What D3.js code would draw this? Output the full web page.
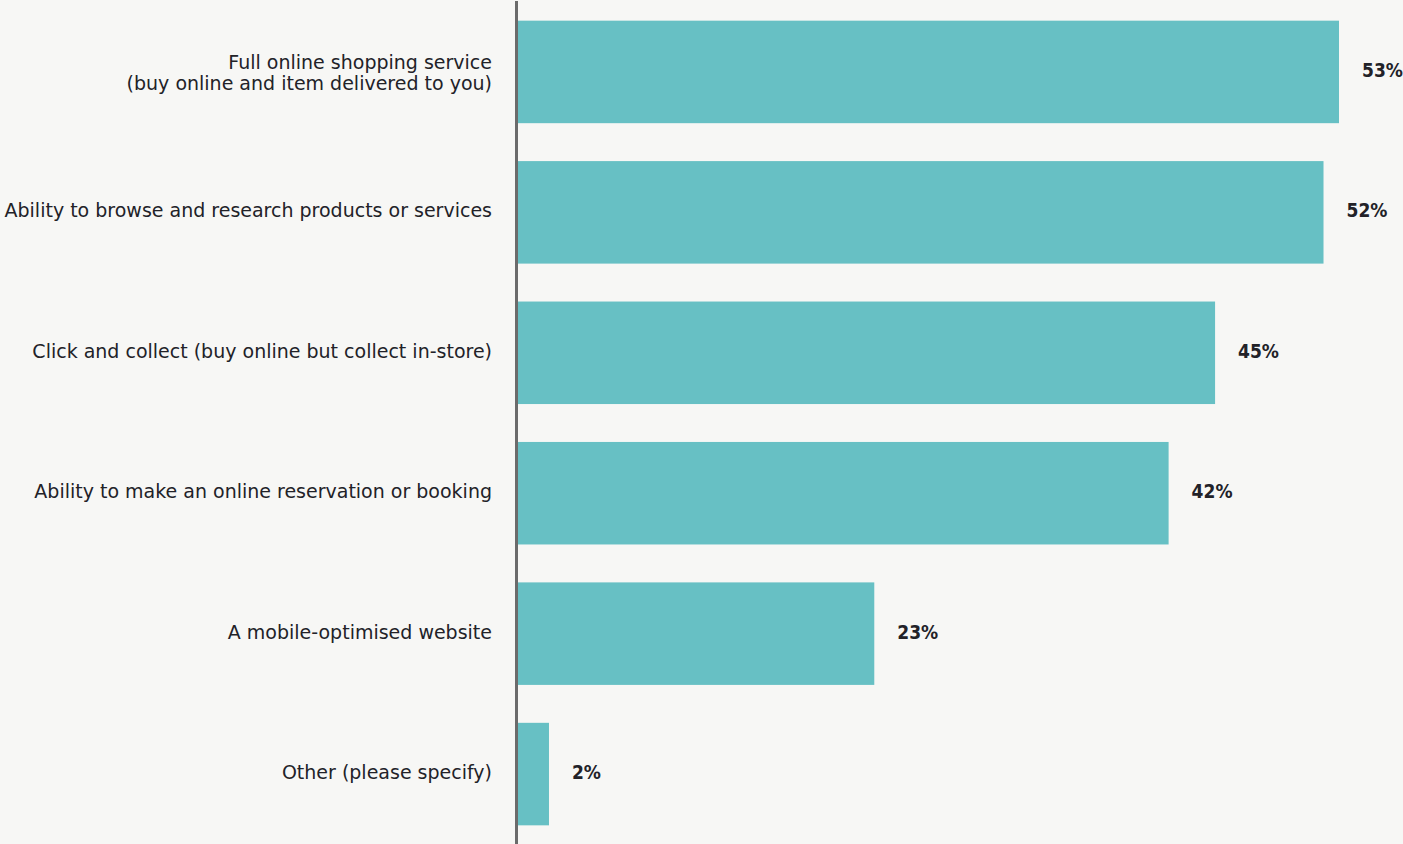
<!DOCTYPE html>
<html>
<head>
<meta charset="utf-8">
<script src="https://cdn.jsdelivr.net/npm/d3@7"></script>
<style>
  html, body { margin: 0; padding: 0; background: #f7f7f5; }
  svg { display: block; }
  .cat { font-family: "DejaVu Sans", sans-serif; font-size: 19px; fill: #222228; }
  .val { font-family: "DejaVu Sans Condensed", "DejaVu Sans", sans-serif; font-weight: 700; font-size: 19px; fill: #222228; }
</style>
</head>
<body>
<svg id="chart" width="1403" height="844"></svg>
<script>
// Survey answers: online services respondents want from a business
const categories = [
  ["Full online shopping service", "(buy online and item delivered to you)"],
  ["Ability to browse and research products or services"],
  ["Click and collect (buy online but collect in-store)"],
  ["Ability to make an online reservation or booking"],
  ["A mobile-optimised website"],
  ["Other (please specify)"]
];
const values = [53, 52, 45, 42, 23, 2];
const valueLabels = ["53%", "52%", "45%", "42%", "23%", "2%"];

const width = 1403, height = 844;
const axisX = 518;

const svg = d3.select("#chart");
svg.append("rect").attr("width", width).attr("height", height).attr("fill", "#f7f7f5");

const keys = categories.map((c, i) => i);
const y = d3.scaleBand().domain(keys).range([1, height + 1]).paddingInner(0.27).paddingOuter(0.14);
const x = d3.scaleLinear().domain([0, 53]).range([axisX, axisX + 821]);
const mid = i => y(i) + y.bandwidth() / 2;

// bars
svg.selectAll("rect.bar").data(values).join("rect")
  .attr("class", "bar")
  .attr("x", x(0))
  .attr("y", (d, i) => y(i))
  .attr("width", d => x(d) - x(0))
  .attr("height", y.bandwidth())
  .attr("fill", "#67c0c4");

// value labels
svg.selectAll("text.val").data(values).join("text")
  .attr("class", "val")
  .attr("x", d => x(d) + 23)
  .attr("y", (d, i) => mid(i) + 5)
  .text((d, i) => valueLabels[i]);

// category labels (right-aligned, possibly two lines)
const lineH = 21;
const cats = svg.selectAll("text.cat").data(categories).join("text")
  .attr("class", "cat")
  .attr("text-anchor", "end")
  .attr("x", 492)
  .attr("y", (d, i) => mid(i) + 5 - (d.length - 1) * 8);
cats.selectAll("tspan").data(d => d).join("tspan")
  .attr("x", 492)
  .attr("dy", (d, j) => j === 0 ? 0 : lineH)
  .text(d => d);

// vertical axis line
svg.append("line")
  .attr("x1", axisX - 1.5).attr("x2", axisX - 1.5)
  .attr("y1", 1).attr("y2", height)
  .attr("stroke", "#6b6b6b").attr("stroke-width", 3);
</script>
</body>
</html>
